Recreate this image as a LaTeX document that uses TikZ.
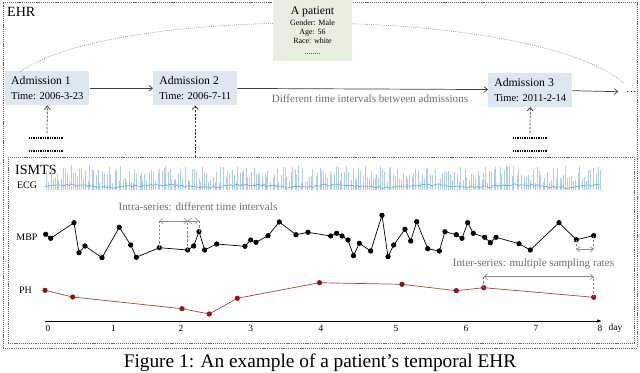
\documentclass[tikz,border=0pt]{standalone}
\usepackage{fontspec}
\setmainfont{Liberation Serif}
\usetikzlibrary{arrows.meta,positioning,calc}

\definecolor{admblue}{RGB}{221,231,242}
\definecolor{patgreen}{RGB}{231,239,224}
\definecolor{ecgblue}{RGB}{110,160,210}
\definecolor{ecglight}{RGB}{175,205,238}
\definecolor{phred}{RGB}{140,22,22}
\definecolor{notegray}{RGB}{110,110,110}

\begin{document}
\begin{tikzpicture}[
    x=0.03cm, y=-0.03cm,
    admbox/.style={fill=admblue, minimum width=2.52cm, minimum height=1.02cm, inner xsep=0.18cm, align=left, anchor=north west, font=\fontsize{9}{12.75}\selectfont},
    groupbox/.style={draw=black!60, line width=0.5pt, dash pattern=on 1pt off 0.8pt},
    flowarr/.style={-{Straight Barb[length=3pt,width=5pt]}, draw=black!75, line width=0.6pt},
    feedarr/.style={-{Straight Barb[length=3pt,width=5pt]}, draw=black!80, line width=0.6pt, dash pattern=on 2pt off 1.2pt},
    gaparr/.style={{Straight Barb[length=3pt,width=5pt]}-{Straight Barb[length=3pt,width=5pt]}, draw=black!45, line width=0.5pt},
    guideline/.style={draw=black!50, line width=0.4pt, dash pattern=on 2pt off 1.5pt},
    arcline/.style={draw=black!55, line width=0.4pt, dash pattern=on 0.8pt off 1pt},
    dotrow/.style={draw=black, line width=1pt, dash pattern=on 0.9pt off 0.6pt},
    notetext/.style={text=notegray, font=\fontsize{9.5}{11}\selectfont, inner sep=0pt},
    serieslabel/.style={font=\fontsize{8.5}{10}\selectfont, inner sep=0pt},
    ticklabel/.style={font=\fontsize{8}{10}\selectfont, inner sep=0pt},
    ecgspike/.style={draw=ecglight, line width=0.3pt},
    ecgbase/.style={draw=ecgblue, line width=0.5pt},
    mbpline/.style={draw=black, line width=0.6pt},
    phline/.style={draw=phred!80, line width=0.6pt}
]
\useasboundingbox (0,0) rectangle (640,373);
\clip (0,0) rectangle (640,373);

% EHR level
\node[groupbox, minimum width=19.02cm, minimum height=10.38cm] (ehr) at (320,175) {};
\node[anchor=north west, inner sep=0pt, font=\fontsize{12}{14}\selectfont] (ehrlabel) at (7,7.3) {EHR};

\node[admbox] (adm1) at (5,71) {{\fontsize{10}{12.75}\selectfont Admission 1}\\Time: 2006-3-23};
\node[admbox] (adm2) at (153,71) {{\fontsize{10}{12.75}\selectfont Admission 2}\\Time: 2006-7-11};
\node[admbox] (adm3) at (488,72.5) {{\fontsize{10}{12.75}\selectfont Admission 3}\\Time: 2011-2-14};
\node[inner xsep=6.5pt, inner ysep=3pt, font=\fontsize{9}{11}\selectfont] (etc) at (631.5,92) {\dots};

\draw[flowarr] (adm1) -- (adm2);
\draw[flowarr] (adm2) -- (adm3);
\draw[flowarr] (adm3) -- (etc);
\node[notetext] (gaplabel) at (370,98.5) {Different time intervals between admissions};

% patient arc
\draw[arcline] ($(adm1.north west)+(15,1)$) .. controls (110,5) and (530,5) .. ($(etc.north west)+(5,-5)$);
\node[fill=patgreen, minimum width=2.37cm, minimum height=1.83cm, align=center, inner sep=0pt,
      font=\fontsize{6.8}{7.7}\selectfont] (patient) at (312.5,30.5)
     {{\fontsize{10}{10}\selectfont A patient}\\[2pt]Gender: Male\\Age: 56\\Race: white\\[1.5pt]........};

% other series sets
\coordinate (s1) at (47,133);
\coordinate (s3) at (530,133);
\draw[dotrow] (29,138) -- (64,138);
\draw[dotrow] (29,151) -- (64,151);
\draw[dotrow] (513,138) -- (547,138);
\draw[dotrow] (513,151) -- (547,151);
\draw[feedarr] (s1) -- (adm1.south);
\draw[feedarr] (s3) -- (adm3.south);

% ISMTS level
\node[groupbox, minimum width=18.8cm, minimum height=5.565cm] (ismts) at (321.35,250.25) {};
\node[anchor=north west, inner sep=0pt, font=\fontsize{12}{14}\selectfont] (ismtslabel) at (15,165) {ISMTS};
\draw[feedarr] (adm2.south |- ismts.north) -- (adm2.south);

\node[serieslabel] (ecg) at (27,185) {ECG};
\node[serieslabel] (mbp) at (27,237) {MBP};
\node[serieslabel] (ph) at (25.5,290) {PH};

% ECG
\pgfmathsetseed{42}
\foreach \k in {0,...,270}{
  \pgfmathsetmacro{\sx}{46+2.05*\k+1.5*rnd}
  \pgfmathsetmacro{\sy}{165+18*rnd}
  \draw[ecgspike] (\sx,190) -- (\sx,\sy);
}
\draw[ecgbase] plot[domain=45:600, samples=300] (\x,{186+1.2*rand+1.3*sin(4*\x)});

% MBP
\draw[mbpline] plot[mark=*, mark size=1.9pt, mark options={fill=black}] coordinates {
  (45.7,234.3) (50.7,238.3) (74,222.7) (79,252.7) (85,246) (102,257.7) (119.3,227.3)
  (130.7,245) (136.3,257.3) (159.3,247.7) (187.7,250) (193.7,246) (199,231.7) (204.7,250)
  (216.7,244) (245,246.3) (250.7,240) (256,242.3) (268,235.7) (279.3,222) (296,234.7)
  (308,232.3) (330.7,236) (336.7,233.3) (342,236) (348,240) (353.5,255.7) (359.3,243.3)
  (370.7,251) (382,215.3) (388,256.7) (393.7,245) (405,229.3) (410.7,241) (416.7,221.7)
  (427.7,248.7) (439.3,251) (445,231.7) (456.3,234.7) (462,238.3) (467.7,222.7) (473.3,233.3)
  (484.7,237.3) (490.3,242.7) (496,237.3) (519,243.7) (530.3,250) (559,222.7) (576.3,239.7)
  (593.7,235.7)};

% PH
\draw[phline] plot[mark=*, mark size=1.9pt, mark options={fill=phred, draw=phred}] coordinates {
  (45,290.3) (72.7,297) (182,308.7) (209.3,314) (237.3,298.3) (319.5,282.7) (402,284.3)
  (456.3,290.7) (483.7,287.7) (593.7,297.3)};

% intra-series intervals
\coordinate (m1) at (159.3,247.7);
\coordinate (m2) at (187.7,250);
\coordinate (m3) at (199,231.7);
\coordinate (ilev) at (0,221);
\draw[guideline] (m1) -- (m1 |- ilev);
\draw[guideline] (m2) -- (m2 |- ilev);
\draw[guideline] (m3) -- (m3 |- ilev);
\draw[gaparr] (m1 |- ilev) -- (m2 |- ilev);
\draw[gaparr] (m2 |- ilev) -- (m3 |- ilev);
\node[notetext] (intralabel) at (198,207) {Intra-series: different time intervals};

% inter-series rates
\coordinate (mA) at (576.3,239.7);
\coordinate (mB) at (593.7,235.7);
\coordinate (pA) at (483.7,287.7);
\coordinate (pB) at (593.7,297.3);
\coordinate (klev) at (0,249.5);
\coordinate (jlev) at (0,276.7);
\draw[guideline] (mA) -- (mA |- klev);
\draw[guideline] (mB) -- (mB |- klev);
\draw[gaparr] (mA |- klev) -- (mB |- klev);
\draw[guideline] (pA) -- (pA |- jlev);
\draw[guideline] (pB) -- (pB |- jlev);
\draw[gaparr] (pA |- jlev) -- (pB |- jlev);
\node[notetext] (interlabel) at (533.5,264) {Inter-series: multiple sampling rates};

% time axis
\coordinate (ax0) at (45,321);
\coordinate (ax1) at (602,321);
\draw[-{Latex[length=4pt,width=3pt]}, line width=0.7pt] (ax0) -- (ax1);
\foreach \d/\x in {0/48,1/113.5,2/181,3/250.6,4/321,5/396,6/466,7/536,8/600}
  \node[ticklabel] (t\d) at (\x,328) {\d};
\node[ticklabel, right=5pt of t8] (day) {day};

\node[font=\fontsize{16.5}{18}\selectfont, anchor=base] (caption) at (320,367.5) {Figure 1: An example of a patient's temporal EHR};
\end{tikzpicture}
\end{document}
